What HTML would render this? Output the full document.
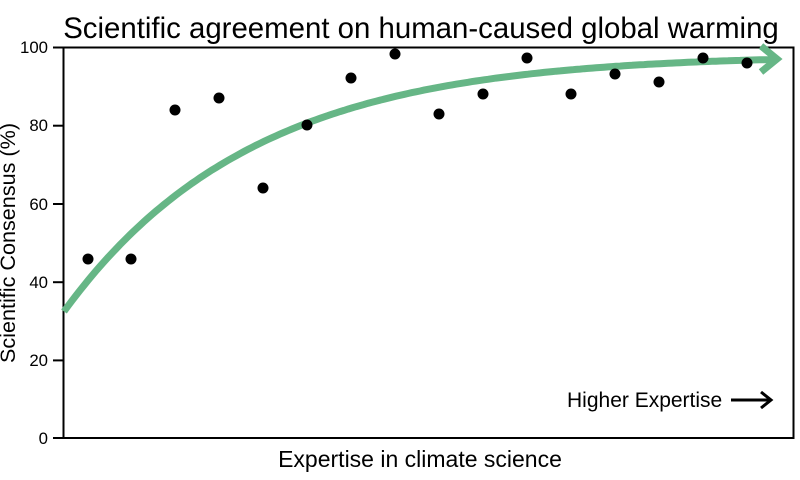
<!DOCTYPE html>
<html><head><meta charset="utf-8"><style>body{margin:0;background:#fff}svg{display:block}</style></head><body>
<svg width="800" height="480" xmlns="http://www.w3.org/2000/svg" font-family="Liberation Sans, sans-serif">
<rect width="800" height="480" fill="#fff"/>
<text x="421" y="38" font-size="29.4" text-anchor="middle" fill="#000">Scientific agreement on human-caused global warming</text>
<rect x="63.5" y="47.5" width="730" height="390.5" fill="none" stroke="#000" stroke-width="2"/>
<g stroke="#000" stroke-width="2">
<line x1="53" y1="47.5" x2="63" y2="47.5"/><line x1="53" y1="125.7" x2="63" y2="125.7"/><line x1="53" y1="204" x2="63" y2="204"/><line x1="53" y1="282.2" x2="63" y2="282.2"/><line x1="53" y1="360.4" x2="63" y2="360.4"/><line x1="53" y1="438" x2="63" y2="438"/>
</g>
<g font-size="16.8" text-anchor="end" fill="#000">
<text x="48" y="53">100</text><text x="48" y="131">80</text><text x="48" y="210">60</text><text x="48" y="288">40</text><text x="48" y="366">20</text><text x="48" y="444">0</text>
</g>
<text transform="translate(15,243) rotate(-90)" font-size="21.6" text-anchor="middle">Scientific Consensus (%)</text>
<text x="420" y="467" font-size="23" text-anchor="middle">Expertise in climate science</text>
<text x="567" y="407" font-size="21">Higher Expertise</text>
<line x1="731" y1="400" x2="770" y2="400" stroke="#000" stroke-width="3"/>
<polyline points="761,392 771,400 761,408" fill="none" stroke="#000" stroke-width="3"/>
<path id="c" fill="none" stroke="#66b686" stroke-width="7" d=""/>
<polyline points="761,46 777,59 761,72" fill="none" stroke="#66b686" stroke-width="7"/>
<g fill="#000">
<circle cx="88" cy="259" r="5.5"/><circle cx="131" cy="259" r="5.5"/><circle cx="175" cy="110" r="5.5"/><circle cx="219" cy="98" r="5.5"/><circle cx="263" cy="188" r="5.5"/><circle cx="307" cy="125" r="5.5"/><circle cx="351" cy="78" r="5.5"/><circle cx="395" cy="54" r="5.5"/><circle cx="439" cy="114" r="5.5"/><circle cx="483" cy="94" r="5.5"/><circle cx="527" cy="58" r="5.5"/><circle cx="571" cy="94" r="5.5"/><circle cx="615" cy="74" r="5.5"/><circle cx="659" cy="82" r="5.5"/><circle cx="703" cy="58" r="5.5"/><circle cx="747" cy="63" r="5.5"/>
</g>
<script>
var d="";for(var x=64;x<=775;x+=4){var v=100-68*Math.exp(-0.00524*(x-63));var y=438-3.91*v+6*(x-63)/712;d+=(x==64?"M":"L")+x+","+y.toFixed(1);}
document.getElementById("c").setAttribute("d",d+"L776,59");
</script>
</svg>
</body></html>
